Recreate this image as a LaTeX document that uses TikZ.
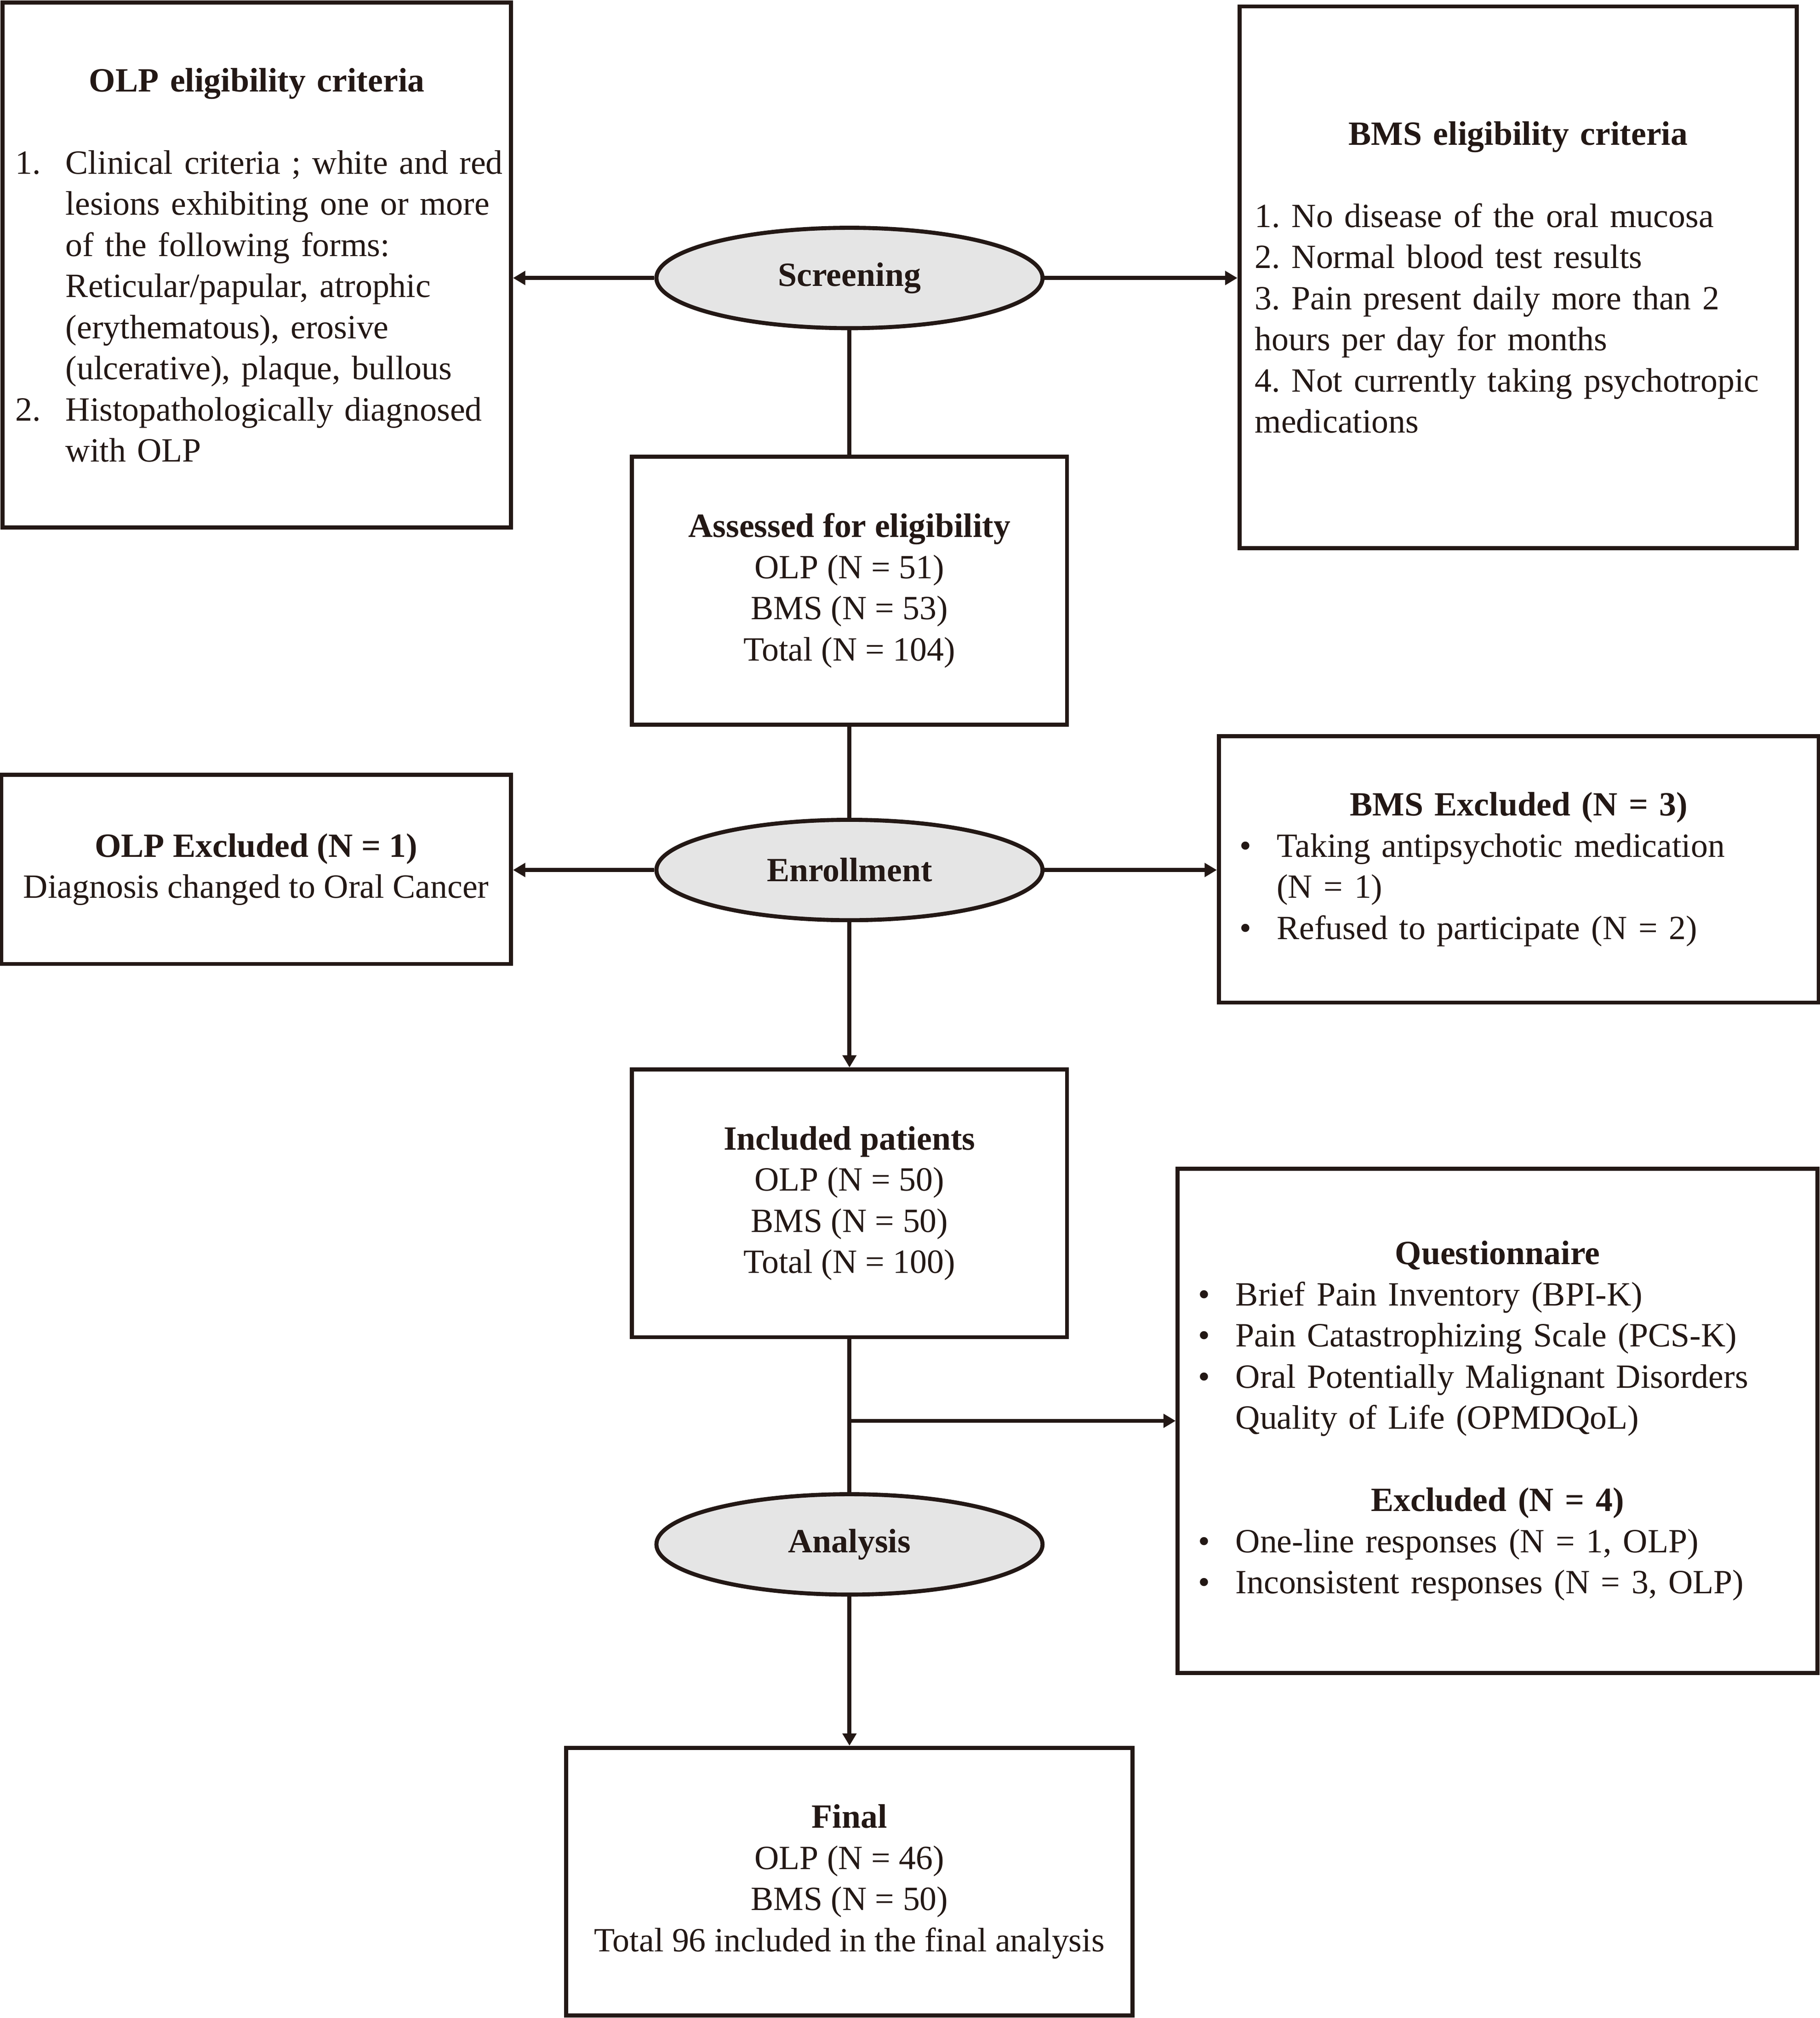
\documentclass[tikz,border=0pt]{standalone}
\usepackage{fontspec}
\setmainfont{Liberation Serif}
\usetikzlibrary{arrows.meta}
\usetikzlibrary{shapes.geometric}
\definecolor{ink}{RGB}{35,24,21}
\frenchspacing

\newcommand{\itemno}[1]{\makebox[0.78cm][l]{#1}}
\newcommand{\itemgap}{\hspace*{0.78cm}}
\newcommand{\bul}{\makebox[0.58cm][l]{\textbullet}}
\newcommand{\bulgap}{\hspace*{0.58cm}}
\newcommand{\boxtitle}[1]{\makebox[\linewidth]{\textbf{#1}}}

\begin{document}
\begin{tikzpicture}[
	every node/.style={font=\fontsize{15}{18.2}\selectfont, text=ink},
	box/.style={draw=ink, line width=1.8pt, inner ysep=0pt},
	midbox/.style={box, align=center, minimum width=6.76cm, minimum height=4.16cm},
	phase/.style={ellipse, draw=ink, line width=1.8pt, fill=black!10, minimum width=6cm, minimum height=1.56cm, inner sep=0pt, font=\fontsize{15}{18.2}\selectfont\bfseries},
	link/.style={draw=ink, line width=1.8pt},
	flow/.style={draw=ink, line width=1.8pt, -{Triangle[length=1.9mm,width=2.1mm]}}
	]
	\useasboundingbox (0,0) rectangle (28.28,-31.36);

	%Phases
	\node [phase] (screening) at (13.2,-4.32) {Screening};
	\node [phase] (enroll) at (13.2,-13.52) {Enrollment};
	\node [phase] (analysis) at (13.2,-24.0) {Analysis};

	%Eligibility criteria
	\node [box, align=left, text width=7.5cm, inner xsep=0.2cm, minimum height=8.16cm] (olpcrit) at (3.99,-4.12) {
		\boxtitle{OLP eligibility criteria}\\[18.2pt]
		\mbox{\itemno{1.}Clinical criteria ; white and red}\\
		\itemgap lesions exhibiting one or more\\
		\itemgap of the following forms:\\
		\itemgap Reticular/papular, atrophic\\
		\itemgap (erythematous), erosive\\
		\itemgap (ulcerative), plaque, bullous\\
		\mbox{\itemno{2.}Histopathologically diagnosed}\\
		\itemgap with OLP};
	\node [box, align=left, text width=8.18cm, inner xsep=0.24cm, minimum height=8.42cm] (bmscrit) at (23.59,-4.31) {
		\boxtitle{BMS eligibility criteria}\\[18.2pt]
		1. No disease of the oral mucosa\\
		2. Normal blood test results\\
		3. Pain present daily more than 2\\
		hours per day for months\\
		\mbox{4. Not currently taking psychotropic}\\
		medications};

	%Assessed
	\node [midbox] (assessed) at (13.2,-9.18) {\textbf{Assessed for eligibility}\\OLP (N = 51)\\BMS (N = 53)\\Total (N = 104)};

	%Exclusions at enrollment
	\node [box, align=center, minimum width=7.92cm, minimum height=2.94cm] (olpexcl) at (3.98,-13.51) {\textbf{OLP Excluded (N = 1)}\\Diagnosis changed to Oral Cancer};
	\node [box, align=left, text width=8.68cm, inner xsep=0.32cm, minimum height=4.14cm] (bmsexcl) at (23.6,-13.51) {
		\boxtitle{BMS Excluded (N = 3)}\\
		\bul Taking antipsychotic medication\\
		\bulgap (N = 1)\\
		\bul Refused to participate (N = 2)};

	%Included
	\node [midbox] (included) at (13.2,-18.7) {\textbf{Included patients}\\OLP (N = 50)\\BMS (N = 50)\\Total (N = 100)};

	%Questionnaire
	\node [box, align=left, text width=9.3cm, inner xsep=0.32cm, minimum height=7.84cm] (quest) at (23.27,-22.08) {
		\boxtitle{Questionnaire}\\
		\bul Brief Pain Inventory (BPI-K)\\
		\bul Pain Catastrophizing Scale (PCS-K)\\
		\mbox{\bul Oral Potentially Malignant Disorders}\\
		\bulgap Quality of Life (OPMDQoL)\\[18.2pt]
		\boxtitle{Excluded (N = 4)}\\
		\bul One-line responses (N = 1, OLP)\\
		\bul Inconsistent responses (N = 3, OLP)};

	%Final
	\node [midbox, minimum width=8.8cm] (final) at (13.2,-29.24) {\textbf{Final}\\OLP (N = 46)\\BMS (N = 50)\\Total 96 included in the final analysis};

	%Connectors
	\draw [flow] (screening.west) -- (screening.west -| olpcrit.east);
	\draw [flow] (screening.east) -- (screening.east -| bmscrit.west);
	\draw [link] (screening) -- (assessed);
	\draw [link] (assessed) -- (enroll);
	\draw [flow] (enroll.west) -- (enroll.west -| olpexcl.east);
	\draw [flow] (enroll.east) -- (enroll.east -| bmsexcl.west);
	\draw [flow] (enroll) -- (included);
	\draw [link] (included) -- (analysis);
	\coordinate (qsplit) at (included.south |- quest.west);
	\draw [flow] (qsplit) -- (quest.west);
	\draw [flow] (analysis) -- (final);
\end{tikzpicture}
\end{document}
